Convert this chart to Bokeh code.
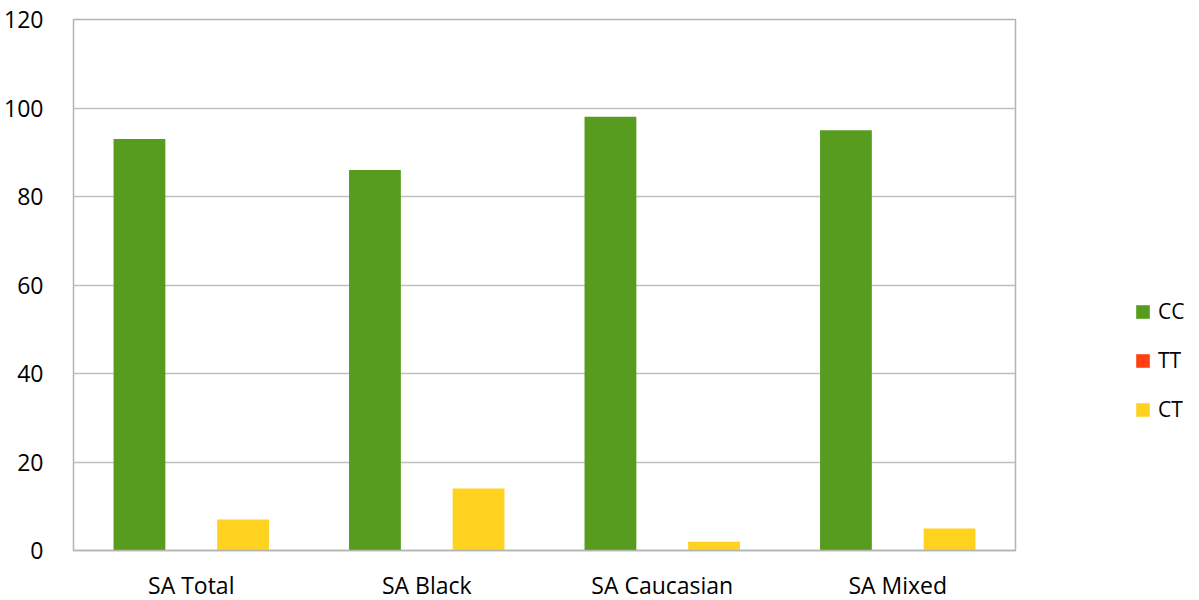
from bokeh.plotting import figure
from bokeh.models import ColumnDataSource, FactorRange, Range1d, Legend, LegendItem, FixedTicker
from bokeh.transform import dodge
from bokeh.embed import file_html
from bokeh.resources import INLINE

categories = ["SA Total", "SA Black", "SA Caucasian", "SA Mixed"]
cc = [93, 86, 98, 95]
tt = [0, 0, 0, 0]
ct = [7, 14, 2, 5]
y_ticks = [0, 20, 40, 60, 80, 100, 120]

src = ColumnDataSource(dict(cat=categories, CC=cc, TT=tt, CT=ct))

FONT = "Open Sans"

p = figure(frame_width=942, frame_height=531, x_range=FactorRange(*categories, range_padding=0),
           y_range=Range1d(0, 120), output_backend="svg", toolbar_location=None,
           min_border_left=73, min_border_right=0, min_border_top=19, min_border_bottom=50)

r_cc = p.vbar(x=dodge("cat", -0.22, range=p.x_range), top="CC", width=0.22, source=src,
              fill_color="#589C1F", line_color=None)
r_tt = p.vbar(x=dodge("cat", 0.0, range=p.x_range), top="TT", width=0.22, source=src,
              fill_color="#FF4112", line_color=None)
r_ct = p.vbar(x=dodge("cat", 0.22, range=p.x_range), top="CT", width=0.22, source=src,
              fill_color="#FFD220", line_color=None)

p.outline_line_color = "#B3B3B3"
p.outline_line_width = 1.5
p.xgrid.grid_line_color = None
p.ygrid.grid_line_color = "#BFBFBF"
p.ygrid.grid_line_width = 1.5

p.yaxis.ticker = FixedTicker(ticks=y_ticks)
p.yaxis.axis_line_color = None
p.yaxis.major_tick_line_color = None
p.yaxis.minor_tick_line_color = None
p.yaxis.major_label_standoff = 24
p.yaxis.major_label_text_font = FONT
p.yaxis.major_label_text_font_size = "23px"
p.yaxis.major_label_text_color = "#000000"

p.xaxis.axis_line_color = "#B3B3B3"
p.xaxis.axis_line_width = 1.5
p.xaxis.major_tick_line_color = None
p.xaxis.minor_tick_line_color = None
p.xaxis.major_label_standoff = 12
p.xaxis.major_label_text_font = FONT
p.xaxis.major_label_text_font_size = "23px"
p.xaxis.major_label_text_color = "#000000"

legend = Legend(items=[LegendItem(label="CC", renderers=[r_cc]),
                       LegendItem(label="TT", renderers=[r_tt]),
                       LegendItem(label="CT", renderers=[r_ct])],
                location=(119, 127), orientation="vertical")
legend.border_line_color = None
legend.background_fill_alpha = 0
legend.margin = 0
legend.padding = 0
legend.label_text_font = FONT
legend.label_text_font_size = "21px"
legend.label_text_color = "#000000"
legend.glyph_width = 17
legend.glyph_height = 17
legend.spacing = 21
legend.label_standoff = 7
p.add_layout(legend, "right")

open("out.html", "w").write(file_html(p, INLINE))
